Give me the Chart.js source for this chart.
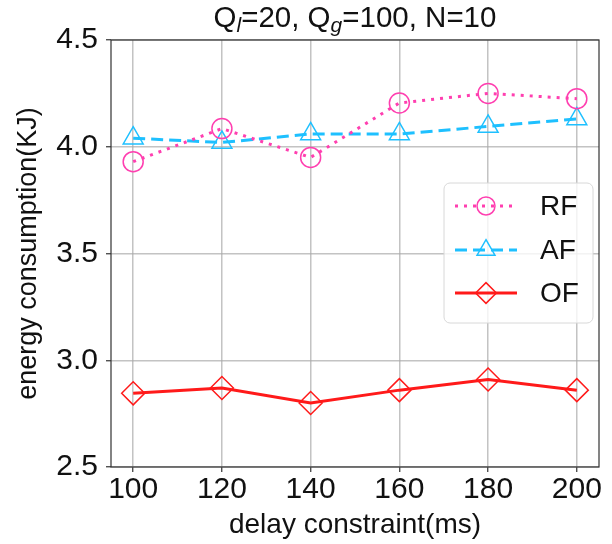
<!DOCTYPE html>
<html>
<head>
<meta charset="utf-8">
<script src="https://cdn.jsdelivr.net/npm/chart.js@4/dist/chart.umd.min.js"></script>
<style>
  body { margin: 0; background: #fff; }
  #energyChart { display: block; }
</style>
</head>
<body>
<canvas id="energyChart" width="612" height="544"></canvas>
<script>
// delay constraint (ms) and energy (KJ) per scheme
var delays = [100, 120, 140, 160, 180, 200];
var rfEnergy = [3.93, 4.085, 3.95, 4.205, 4.25, 4.225];
var afEnergy = [4.04, 4.02, 4.06, 4.06, 4.095, 4.13];
var ofEnergy = [2.845, 2.87, 2.80, 2.86, 2.91, 2.86];
var yTicks = [2.5, 3.0, 3.5, 4.0, 4.5];

var FONT = 'Liberation Sans';

function toPoints(vals) {
	return delays.map(function (d, i) { return { x: d, y: vals[i] }; });
}

var series = [
	{ label: 'RF', data: rfEnergy, color: '#ff3fb0', dash: [3, 6], style: 'circle', radius: 10 },
	{ label: 'AF', data: afEnergy, color: '#1ec0ff', dash: [12, 6], style: 'triangle', radius: 11.5 },
	{ label: 'OF', data: ofEnergy, color: '#ff1a1a', dash: [], style: 'rectRot', radius: 11.5 }
];

// title with subscripts, drawn over the plot area
var titlePlugin = {
	id: 'subTitle',
	afterDraw: function (chart) {
		var ctx = chart.ctx, area = chart.chartArea;
		var parts = [
			{ t: 'Q', sub: false }, { t: 'l', sub: true }, { t: '=20, Q', sub: false },
			{ t: 'g', sub: true }, { t: '=100, N=10', sub: false }
		];
		var big = '29.5px "' + FONT + '"', small = 'italic 21px "' + FONT + '"';
		ctx.save();
		var total = 0;
		parts.forEach(function (p) {
			ctx.font = p.sub ? small : big;
			p.w = ctx.measureText(p.t).width;
			total += p.w;
		});
		var x = (area.left + area.right) / 2 - total / 2;
		var y = 27;
		ctx.fillStyle = '#111';
		ctx.textBaseline = 'alphabetic';
		parts.forEach(function (p) {
			ctx.font = p.sub ? small : big;
			ctx.fillText(p.t, x, p.sub ? y + 5 : y);
			x += p.w;
		});
		ctx.restore();
	}
};

// frame around the plot and the legend box inside it
var framePlugin = {
	id: 'frameLegend',
	afterDatasetsDraw: function (chart) {
		var ctx = chart.ctx, a = chart.chartArea;
		ctx.save();
		ctx.strokeStyle = '#333';
		ctx.lineWidth = 1.2;
		ctx.strokeRect(a.left, a.top, a.right - a.left, a.bottom - a.top);

		// legend box
		var bx = 444, by = 183, bw = 149, bh = 140;
		ctx.beginPath();
		ctx.roundRect(bx, by, bw, bh, 6);
		ctx.fillStyle = 'rgba(255,255,255,0.8)';
		ctx.fill();
		ctx.strokeStyle = '#d8d8d8';
		ctx.lineWidth = 1;
		ctx.stroke();

		var rows = [206, 250, 293];
		series.forEach(function (s, i) {
			var y = rows[i];
			ctx.beginPath();
			ctx.setLineDash(s.dash);
			ctx.strokeStyle = s.color;
			ctx.lineWidth = 3;
			ctx.moveTo(455, y);
			ctx.lineTo(517, y);
			ctx.stroke();
			ctx.setLineDash([]);
			ctx.lineWidth = 1.5;
			ctx.fillStyle = 'rgba(255,255,255,0)';
			Chart.helpers.drawPoint(ctx, {
				pointStyle: s.style, radius: s.radius * 0.9, borderWidth: 1.5, rotation: 0
			}, 486, y);
			ctx.fillStyle = '#111';
			ctx.font = '28px "' + FONT + '"';
			ctx.textBaseline = 'middle';
			ctx.textAlign = 'left';
			ctx.fillText(s.label, 540, y + 1);
		});
		ctx.restore();
	}
};

new Chart(document.getElementById('energyChart'), {
	type: 'line',
	data: {
		datasets: series.map(function (s) {
			return {
				label: s.label,
				data: toPoints(s.data),
				borderColor: s.color,
				borderWidth: 3,
				borderDash: s.dash,
				pointStyle: s.style,
				pointRadius: s.radius,
				pointBorderWidth: 1.5,
				pointBorderColor: s.color,
				pointBackgroundColor: 'rgba(0,0,0,0)',
				fill: false,
				tension: 0
			};
		})
	},
	options: {
		responsive: false,
		animation: false,
		layout: { padding: { top: 40, right: 5, left: 0, bottom: 0 } },
		plugins: {
			legend: { display: false },
			title: { display: false },
			tooltip: { enabled: false }
		},
		scales: {
			x: {
				type: 'linear',
				min: 95,
				max: 205,
				afterBuildTicks: function (axis) {
					axis.ticks = delays.map(function (v) { return { value: v }; });
				},
				afterFit: function (scale) { scale.height = 77; },
				grid: { color: 'rgba(170,170,170,0.7)', lineWidth: 1.5, tickLength: 5, tickColor: '#333', tickWidth: 1.2 },
				border: { display: false },
				ticks: { color: '#111', font: { family: FONT, size: 30 }, padding: 0, maxRotation: 0 },
				title: { display: true, text: 'delay constraint(ms)', color: '#111', font: { family: FONT, size: 28 }, padding: { top: 0, bottom: 2 } }
			},
			y: {
				min: 2.5,
				max: 4.5,
				afterBuildTicks: function (axis) {
					axis.ticks = yTicks.map(function (v) { return { value: v }; });
				},
				afterFit: function (scale) { scale.width = 111; },
				grid: { color: 'rgba(170,170,170,0.7)', lineWidth: 1.5, tickLength: 5, tickColor: '#333', tickWidth: 1.2 },
				border: { display: false },
				ticks: {
					color: '#111', font: { family: FONT, size: 30 }, padding: 8,
					callback: function (v) { return v.toFixed(1); }
				},
				title: { display: true, text: 'energy consumption(KJ)', color: '#111', font: { family: FONT, size: 27 }, padding: { top: 12, bottom: 0 } }
			}
		}
	},
	plugins: [titlePlugin, framePlugin]
});
</script>
</body>
</html>
